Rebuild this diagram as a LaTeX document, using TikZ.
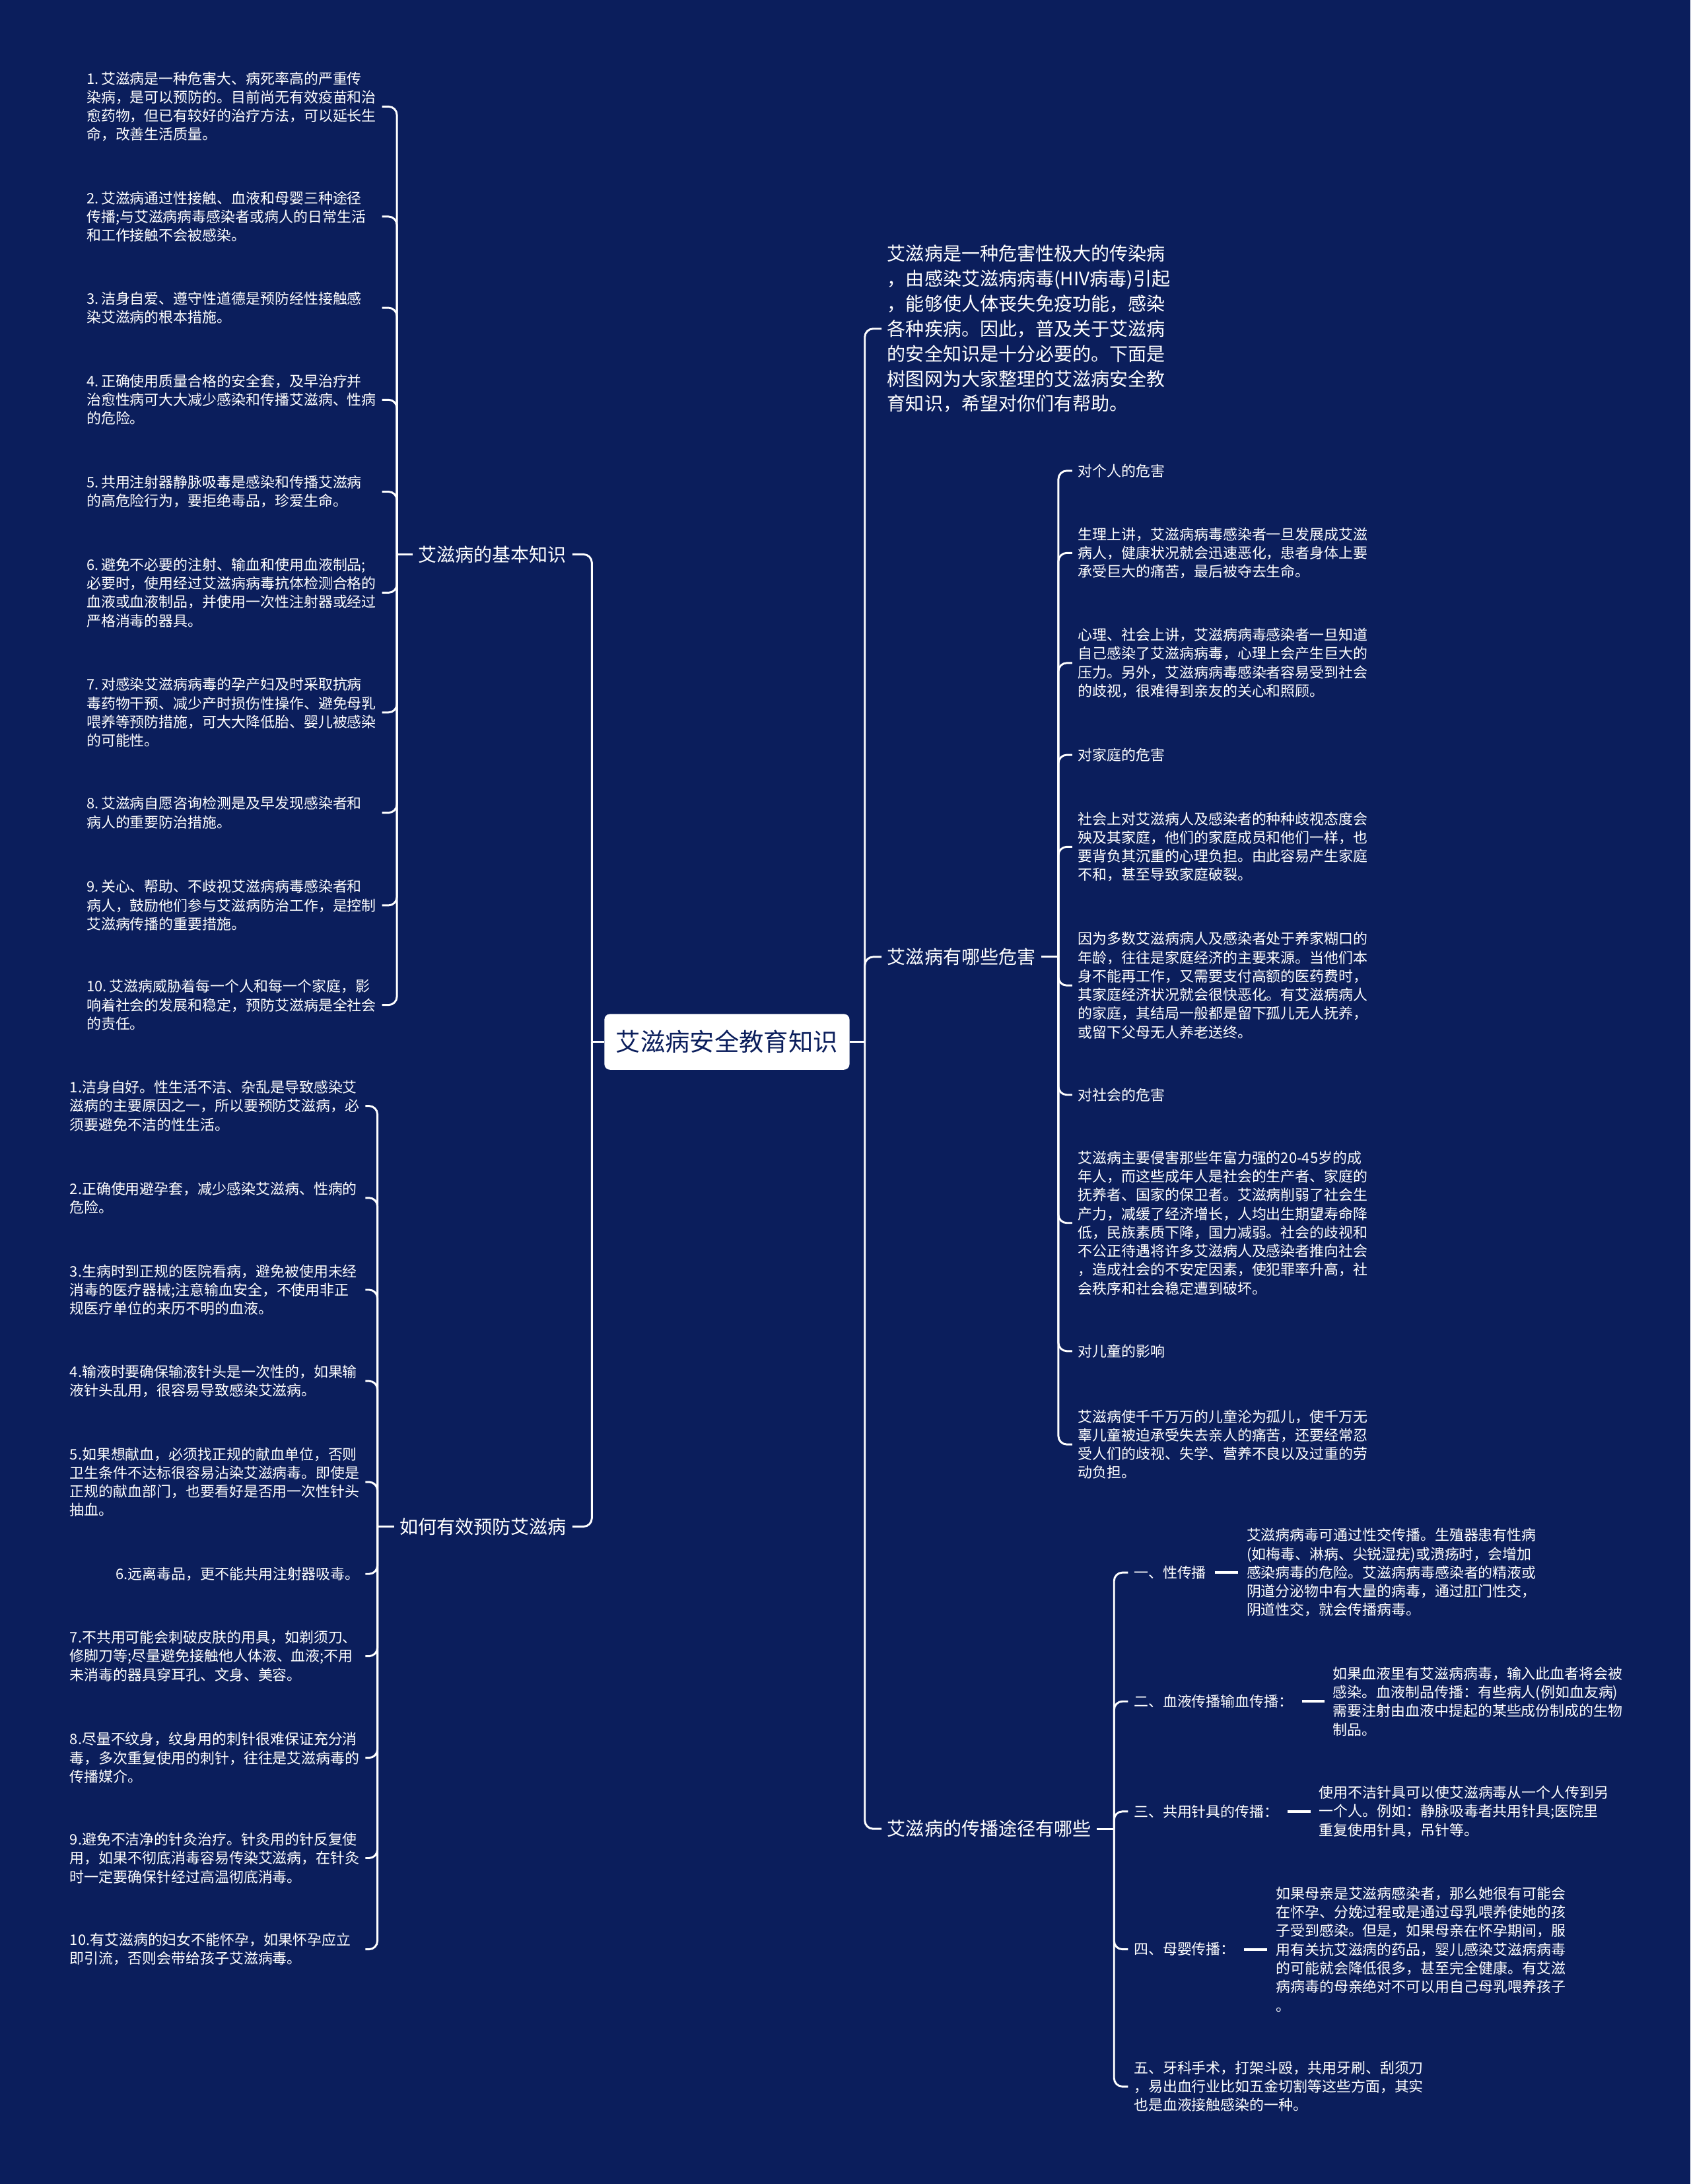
\documentclass[tikz,border=0pt]{standalone}
\usepackage{fontspec}
\setmainfont{Noto Sans CJK SC}
\usetikzlibrary{positioning,calc}
\definecolor{navy}{RGB}{11,30,92}

\begin{document}
\begin{tikzpicture}[x=1pt, y=-1pt,
        link/.style={draw=white, line width=1.4pt, rounded corners=6pt},
        bar/.style={draw=white, line width=2pt, shorten <=2pt, shorten >=2pt},
        root/.style={rectangle, fill=white, rounded corners=4pt, minimum width=176pt, minimum height=40pt, inner sep=0pt, text=navy, font=\fontsize{17.7}{22}\selectfont},
        sub/.style={text=white, inner xsep=4pt, inner ysep=0pt, align=left, font=\fontsize{13.3}{18}\selectfont},
        leaf/.style={text=white, inner xsep=4pt, inner ysep=0pt, align=left, font=\fontsize{10.4}{13.4}\selectfont},
        lbox/.style={leaf, inner xsep=0pt, text width=212pt}
    ]

    %% ---- background ----
    \fill[navy] (0,0) rectangle (1214,1568);

    %% ---- root ----
    \node[root] (root) at (522,748) {艾滋病安全教育知识};

    %% ======== left: basic knowledge ========
    \node[sub, anchor=east] (basic) at (411,398) {艾滋病的基本知识};
    \node[sub, anchor=east] (prev) at (411,1096) {如何有效预防艾滋病};
    \coordinate (lj) at (425,748);
    \draw[link] (root.west) -- (lj);
    \draw[link] (lj) |- (basic.east);
    \draw[link] (lj) |- (prev.east);

    \node[lbox, anchor=west] (b1) at (62,76.5) {1.\,艾滋病是一种危害大、病死率高的严重传\\染病，是可以预防的。目前尚无有效疫苗和治\\愈药物，但已有较好的治疗方法，可以延长生\\命，改善生活质量。};
    \node[lbox, anchor=west] (b2) at (62,155.5) {2.\,艾滋病通过性接触、血液和母婴三种途径\\传播;与艾滋病病毒感染者或病人的日常生活\\和工作接触不会被感染。};
    \node[lbox, anchor=west] (b3) at (62,221) {3.\,洁身自爱、遵守性道德是预防经性接触感\\染艾滋病的根本措施。};
    \node[lbox, anchor=west] (b4) at (62,287) {4.\,正确使用质量合格的安全套，及早治疗并\\治愈性病可大大减少感染和传播艾滋病、性病\\的危险。};
    \node[lbox, anchor=west] (b5) at (62,353) {5.\,共用注射器静脉吸毒是感染和传播艾滋病\\的高危险行为，要拒绝毒品，珍爱生命。};
    \node[lbox, anchor=west] (b6) at (62,425.5) {6.\,避免不必要的注射、输血和使用血液制品;\\必要时，使用经过艾滋病病毒抗体检测合格的\\血液或血液制品，并使用一次性注射器或经过\\严格消毒的器具。};
    \node[lbox, anchor=west] (b7) at (62,511.5) {7.\,对感染艾滋病病毒的孕产妇及时采取抗病\\毒药物干预、减少产时损伤性操作、避免母乳\\喂养等预防措施，可大大降低胎、婴儿被感染\\的可能性。};
    \node[lbox, anchor=west] (b8) at (62,583.5) {8.\,艾滋病自愿咨询检测是及早发现感染者和\\病人的重要防治措施。};
    \node[lbox, anchor=west] (b9) at (62,650) {9.\,关心、帮助、不歧视艾滋病病毒感染者和\\病人，鼓励他们参与艾滋病防治工作，是控制\\艾滋病传播的重要措施。};
    \node[lbox, anchor=west] (b10) at (62,721.5) {10.\,艾滋病威胁着每一个人和每一个家庭，影\\响着社会的发展和稳定，预防艾滋病是全社会\\的责任。};
    \coordinate (bj) at (285,398);
    \draw[link] (basic.west) -- (bj);
    \foreach \i in {1,...,10} \draw[link] (bj) |- (b\i.east);

    %% ======== left: prevention ========
    \node[lbox, anchor=west] (p1) at (50,794) {1.洁身自好。性生活不洁、杂乱是导致感染艾\\滋病的主要原因之一，所以要预防艾滋病，必\\须要避免不洁的性生活。};
    \node[lbox, anchor=west] (p2) at (50,860) {2.正确使用避孕套，减少感染艾滋病、性病的\\危险。};
    \node[lbox, anchor=west] (p3) at (50,926) {3.生病时到正规的医院看病，避免被使用未经\\消毒的医疗器械;注意输血安全，不使用非正\\规医疗单位的来历不明的血液。};
    \node[lbox, anchor=west] (p4) at (50,991.5) {4.输液时要确保输液针头是一次性的，如果输\\液针头乱用，很容易导致感染艾滋病。};
    \node[lbox, anchor=west] (p5) at (50,1064) {5.如果想献血，必须找正规的献血单位，否则\\卫生条件不达标很容易沾染艾滋病毒。即使是\\正规的献血部门，也要看好是否用一次性针头\\抽血。};
    \node[lbox, anchor=west, text width=179pt] (p6) at (83,1130) {6.远离毒品，更不能共用注射器吸毒。};
    \node[lbox, anchor=west] (p7) at (50,1189) {7.不共用可能会刺破皮肤的用具，如剃须刀、\\修脚刀等;尽量避免接触他人体液、血液;不用\\未消毒的器具穿耳孔、文身、美容。};
    \node[lbox, anchor=west] (p8) at (50,1262) {8.尽量不纹身，纹身用的刺针很难保证充分消\\毒，多次重复使用的刺针，往往是艾滋病毒的\\传播媒介。};
    \node[lbox, anchor=west] (p9) at (50,1334) {9.避免不洁净的针灸治疗。针灸用的针反复使\\用，如果不彻底消毒容易传染艾滋病，在针灸\\时一定要确保针经过高温彻底消毒。};
    \node[lbox, anchor=west] (p10) at (50,1399.5) {10.有艾滋病的妇女不能怀孕，如果怀孕应立\\即引流，否则会带给孩子艾滋病毒。};
    \coordinate (pj) at (271,1096);
    \draw[link] (prev.west) -- (pj);
    \foreach \i in {1,...,10} \draw[link] (pj) |- (p\i.east);

    %% ======== right: first level ========
    \node[sub, anchor=west] (intro) at (633,236) {艾滋病是一种危害性极大的传染病\\，由感染艾滋病病毒(HIV病毒)引起\\，能够使人体丧失免疫功能，感染\\各种疾病。因此，普及关于艾滋病\\的安全知识是十分必要的。下面是\\树图网为大家整理的艾滋病安全教\\育知识，希望对你们有帮助。};
    \node[sub, anchor=west] (harm) at (633,687) {艾滋病有哪些危害};
    \node[sub, anchor=west] (route) at (633,1313) {艾滋病的传播途径有哪些};
    \coordinate (rj) at (621,748);
    \draw[link] (root.east) -- (rj);
    \foreach \n in {intro,harm,route} \draw[link] (rj) |- (\n.west);

    %% ======== right: harms ========
    \node[leaf, anchor=west] (h1) at (770,338) {对个人的危害};
    \node[leaf, anchor=west] (h2) at (770,397) {生理上讲，艾滋病病毒感染者一旦发展成艾滋\\病人，健康状况就会迅速恶化，患者身体上要\\承受巨大的痛苦，最后被夺去生命。};
    \node[leaf, anchor=west] (h3) at (770,476) {心理、社会上讲，艾滋病病毒感染者一旦知道\\自己感染了艾滋病病毒，心理上会产生巨大的\\压力。另外，艾滋病病毒感染者容易受到社会\\的歧视，很难得到亲友的关心和照顾。};
    \node[leaf, anchor=west] (h4) at (770,542) {对家庭的危害};
    \node[leaf, anchor=west] (h5) at (770,608) {社会上对艾滋病人及感染者的种种歧视态度会\\殃及其家庭，他们的家庭成员和他们一样，也\\要背负其沉重的心理负担。由此容易产生家庭\\不和，甚至导致家庭破裂。};
    \node[leaf, anchor=west] (h6) at (770,707.5) {因为多数艾滋病病人及感染者处于养家糊口的\\年龄，往往是家庭经济的主要来源。当他们本\\身不能再工作，又需要支付高额的医药费时，\\其家庭经济状况就会很快恶化。有艾滋病病人\\的家庭，其结局一般都是留下孤儿无人抚养，\\或留下父母无人养老送终。};
    \node[leaf, anchor=west] (h7) at (770,786) {对社会的危害};
    \node[leaf, anchor=west] (h8) at (770,878) {艾滋病主要侵害那些年富力强的20-45岁的成\\年人，而这些成年人是社会的生产者、家庭的\\抚养者、国家的保卫者。艾滋病削弱了社会生\\产力，减缓了经济增长，人均出生期望寿命降\\低，民族素质下降，国力减弱。社会的歧视和\\不公正待遇将许多艾滋病人及感染者推向社会\\，造成社会的不安定因素，使犯罪率升高，社\\会秩序和社会稳定遭到破坏。};
    \node[leaf, anchor=west] (h9) at (770,970) {对儿童的影响};
    \node[leaf, anchor=west] (h10) at (770,1037) {艾滋病使千千万万的儿童沦为孤儿，使千万无\\辜儿童被迫承受失去亲人的痛苦，还要经常忍\\受人们的歧视、失学、营养不良以及过重的劳\\动负担。};
    \coordinate (hj) at (760,687);
    \draw[link] (harm.east) -- (hj);
    \foreach \i in {1,...,10} \draw[link] (hj) |- (h\i.west);

    %% ======== right: routes ========
    \node[leaf, anchor=west] (t1) at (810,1129) {一、性传播};
    \node[leaf, anchor=west] (t2) at (810,1221.5) {二、血液传播输血传播：};
    \node[leaf, anchor=west] (t3) at (810,1300.5) {三、共用针具的传播：};
    \node[leaf, anchor=west] (t4) at (810,1399.5) {四、母婴传播：};
    \node[leaf, anchor=west] (t5) at (810,1498) {五、牙科手术，打架斗殴，共用牙刷、刮须刀\\，易出血行业比如五金切割等这些方面，其实\\也是血液接触感染的一种。};
    \coordinate (tj) at (800,1313);
    \draw[link] (route.east) -- (tj);
    \foreach \i in {1,...,5} \draw[link] (tj) |- (t\i.west);

    % descriptions
    \node[leaf, anchor=west] (d1) at (891,1129) {艾滋病病毒可通过性交传播。生殖器患有性病\\(如梅毒、淋病、尖锐湿疣)或溃疡时，会增加\\感染病毒的危险。艾滋病病毒感染者的精液或\\阴道分泌物中有大量的病毒，通过肛门性交，\\阴道性交，就会传播病毒。};
    \node[leaf, anchor=west] (d2) at (953,1221.5) {如果血液里有艾滋病病毒，输入此血者将会被\\感染。血液制品传播：有些病人(例如血友病)\\需要注射由血液中提起的某些成份制成的生物\\制品。};
    \node[leaf, anchor=west] (d3) at (943,1300.5) {使用不洁针具可以使艾滋病毒从一个人传到另\\一个人。例如：静脉吸毒者共用针具;医院里\\重复使用针具，吊针等。};
    \node[leaf, anchor=west] (d4) at (912,1399.5) {如果母亲是艾滋病感染者，那么她很有可能会\\在怀孕、分娩过程或是通过母乳喂养使她的孩\\子受到感染。但是，如果母亲在怀孕期间，服\\用有关抗艾滋病的药品，婴儿感染艾滋病病毒\\的可能就会降低很多，甚至完全健康。有艾滋\\病病毒的母亲绝对不可以用自己母乳喂养孩子\\。};
    \foreach \i in {1,...,4} \draw[bar] (t\i.east) -- (d\i.west);

\end{tikzpicture}
\end{document}
